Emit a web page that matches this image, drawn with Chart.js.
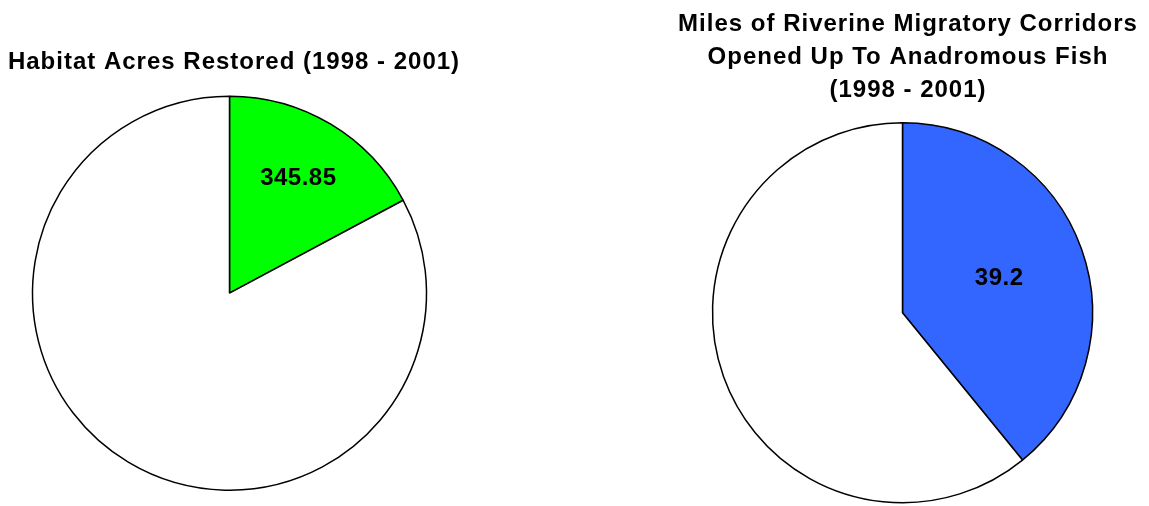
<!DOCTYPE html>
<html>
<head>
<meta charset="utf-8">
<script src="https://cdn.jsdelivr.net/npm/chart.js@4/dist/chart.umd.min.js"></script>
<style>
  html, body { margin: 0; padding: 0; background: #fff; overflow: hidden; }
  body { width: 1149px; height: 506px; position: relative; }
  .box { position: absolute; }
</style>
</head>
<body>
<div class="box" style="left:0px; top:0px; width:459px; height:506px;"><canvas id="acres"></canvas></div>
<div class="box" style="left:660px; top:0px; width:485px; height:520px;"><canvas id="miles"></canvas></div>
<script>
// habitat acres restored
var acresLabels = ["Restored", "Other"];
var acresValues = [345.85, 1667];
var acresShown = ["345.85", ""];

// riverine miles opened
var milesLabels = ["Opened", "Other"];
var milesValues = [39.2, 61];
var milesShown = ["39.2", ""];

// wider letter spacing for the title + nudges it sideways a bit
var titleLook = {
    id: "titleLook",
    beforeDraw: function (chart, args, opts) {
        chart.ctx.save();
        chart.ctx.letterSpacing = opts.spacing;
        chart.ctx.translate(opts.shift, 0);
    },
    beforeDatasetsDraw: function (chart) {
        chart.ctx.restore();
    }
};

// draws the value text inside each slice
var sliceText = {
    id: "sliceText",
    afterDatasetsDraw: function (chart, args, opts) {
        var ctx = chart.ctx;
        var arcs = chart.getDatasetMeta(0).data;
        ctx.save();
        ctx.font = "bold 24px Arial, 'Liberation Sans', sans-serif";
        ctx.letterSpacing = "0.5px";
        ctx.fillStyle = "#000";
        ctx.textAlign = "center";
        ctx.textBaseline = "middle";
        arcs.forEach(function (arc, i) {
            var txt = opts.texts[i];
            if (!txt) return;
            var p = arc.getProps(["x", "y", "startAngle", "endAngle", "outerRadius"], true);
            var mid = (p.startAngle + p.endAngle) / 2;
            var r = p.outerRadius * opts.dist;
            ctx.fillText(txt, p.x + Math.cos(mid) * r, p.y + Math.sin(mid) * r);
        });
        ctx.restore();
    }
};

function makePie(id, labels, values, colour, radius, title, titlePad, lineH, bottomPad, texts, dist, shift) {
    return new Chart(document.getElementById(id).getContext("2d"), {
        type: "pie",
        data: {
            labels: labels,
            datasets: [{
                data: values,
                backgroundColor: [colour, "#ffffff"],
                borderColor: "#000000",
                borderWidth: 1.5,
                radius: radius
            }]
        },
        options: {
            responsive: true,
            maintainAspectRatio: false,
            animation: false,
            layout: { padding: { bottom: bottomPad } },
            plugins: {
                legend: { display: false },
                tooltip: { enabled: false },
                title: {
                    display: true,
                    text: title,
                    color: "#000",
                    font: { family: "Arial, 'Liberation Sans', sans-serif", size: 24, weight: "bold", lineHeight: lineH },
                    padding: titlePad
                },
                titleLook: { spacing: "1px", shift: shift },
                sliceText: { texts: texts, dist: dist }
            }
        },
        plugins: [titleLook, sliceText]
    });
}

makePie("acres", acresLabels, acresValues, "#00ff00", 197,
    "Habitat Acres Restored (1998 - 2001)", { top: 47.6, bottom: 8 }, 1.2, 4, acresShown, 0.68, 4.5);

makePie("miles", milesLabels, milesValues, "#3366ff", 190,
    ["Miles of Riverine Migratory Corridors", "Opened Up To Anadromous Fish", "(1998 - 2001)"],
    { top: 7.5, bottom: 5 }, 1.375, 6, milesShown, 0.54, 5.5);
</script>
</body>
</html>
